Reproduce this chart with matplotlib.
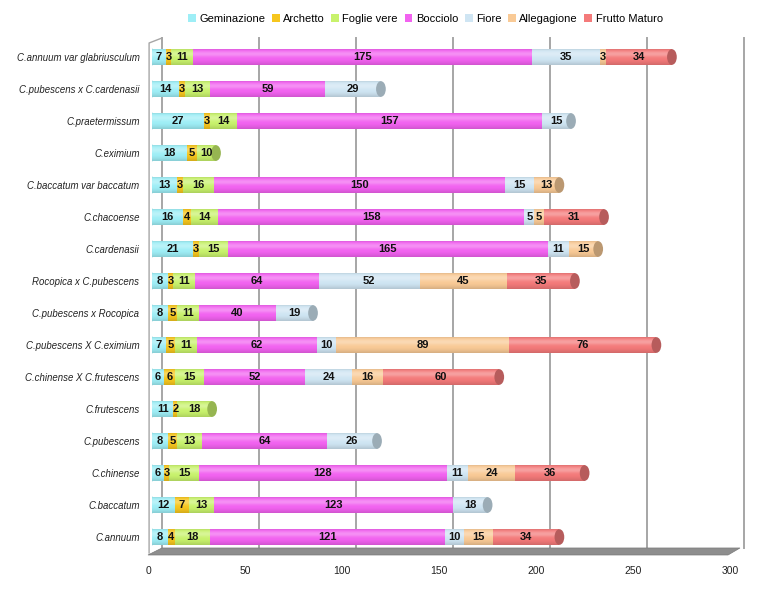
import numpy as np
import matplotlib.pyplot as plt
import matplotlib.transforms as mtransforms
from matplotlib.colors import to_rgb
from matplotlib.patches import Ellipse, Patch, Polygon

plt.rcParams["font.family"] = ["Liberation Sans", "DejaVu Sans"]

categories = [
    "C.annuum var glabriusculum",
    "C.pubescens x C.cardenasii",
    "C.praetermissum",
    "C.eximium",
    "C.baccatum var baccatum",
    "C.chacoense",
    "C.cardenasii",
    "Rocopica x C.pubescens",
    "C.pubescens x Rocopica",
    "C.pubescens X C.eximium",
    "C.chinense X C.frutescens",
    "C.frutescens",
    "C.pubescens",
    "C.chinense",
    "C.baccatum",
    "C.annuum",
]
stages = ["Geminazione", "Archetto", "Foglie vere", "Bocciolo", "Fiore",
          "Allegagione", "Frutto Maturo"]

geminazione = [7, 14, 27, 18, 13, 16, 21, 8, 8, 7, 6, 11, 8, 6, 12, 8]
archetto = [3, 3, 3, 5, 3, 4, 3, 3, 5, 5, 6, 2, 5, 3, 7, 4]
foglie_vere = [11, 13, 14, 10, 16, 14, 15, 11, 11, 11, 15, 18, 13, 15, 13, 18]
bocciolo = [175, 59, 157, 0, 150, 158, 165, 64, 40, 62, 52, 0, 64, 128, 123, 121]
fiore = [35, 29, 15, 0, 15, 5, 11, 52, 19, 10, 24, 0, 26, 11, 18, 10]
allegagione = [3, 0, 0, 0, 13, 5, 15, 45, 0, 89, 16, 0, 0, 24, 0, 15]
frutto_maturo = [34, 0, 0, 0, 0, 31, 0, 35, 0, 76, 60, 0, 0, 36, 0, 34]

series = [geminazione, archetto, foglie_vere, bocciolo, fiore, allegagione, frutto_maturo]
colors = ["#9eeef6", "#f6c61e", "#c8f26c", "#f262f0", "#cfe5f3", "#f9ca96", "#f47a7a"]

BAR_H = 0.5
GRID_C = "#a6a6a6"


def shade(c, f):
    r, g, b = to_rgb(c)
    return (r * f, g * f, b * f)


# soft vertical cylinder shading overlay
t = np.linspace(0, 1, 48)
hi = 0.30 * np.exp(-((t - 0.30) / 0.18) ** 2)
lo = 0.14 * np.clip((t - 0.60) / 0.40, 0, 1) ** 1.5 + 0.08 * np.exp(-(t / 0.06) ** 2)
alpha = np.clip(hi + lo, 0, 1)
wfrac = np.where(alpha > 0, hi / np.maximum(alpha, 1e-6), 0)
grad = np.zeros((len(t), 1, 4))
grad[:, 0, 0] = wfrac
grad[:, 0, 1] = wfrac
grad[:, 0, 2] = wfrac
grad[:, 0, 3] = alpha

fig = plt.figure(figsize=(7.65, 6.0), dpi=100)
ax = fig.add_axes([152 / 765, 47 / 600, 582 / 765, 512 / 600])

y = np.arange(len(categories))
lefts = np.zeros(len(categories))
for vals, col in zip(series, colors):
    vals = np.array(vals)
    ax.barh(y, vals, left=lefts, height=BAR_H, color=col, edgecolor="none", zorder=3)
    for yi, (l, v) in enumerate(zip(lefts, vals)):
        if v > 0:
            ax.text(l + v / 2, yi, str(v), ha="center", va="center", fontsize=8,
                    fontweight="bold", color="#111111", zorder=7)
    lefts = lefts + vals

totals = lefts
for yi, total in enumerate(totals):
    ax.imshow(grad, extent=(0, total, yi + BAR_H / 2, yi - BAR_H / 2), aspect="auto",
              origin="upper", zorder=4, interpolation="bilinear")
    # rounded start
    ax.add_patch(Ellipse((0, yi), 3.2, BAR_H, facecolor=colors[0], edgecolor=shade(colors[0], 0.88),
                         lw=0.5, zorder=2.5))
    # end cap coloured after the last segment
    last = max(j for j, s in enumerate(series) if s[yi] > 0)
    ax.add_patch(Ellipse((total, yi), 5, BAR_H * 0.98, facecolor=shade(colors[last], 0.75),
                         edgecolor="none", zorder=5))

ax.set_xlim(0, 300)
ax.set_ylim(len(categories) - 0.5, -0.5)
for s in ax.spines.values():
    s.set_visible(False)
ax.set_xticks(range(0, 301, 50))
ax.set_yticks(y)
ax.set_yticklabels(categories, fontstyle="italic", fontsize=6.9, color="#222222")
ax.tick_params(axis="y", length=0, pad=9)
ax.tick_params(axis="x", length=0, pad=9, labelsize=7.5, labelcolor="#222222")
shift = mtransforms.ScaledTranslation(-4 / 100, 0, fig.dpi_scale_trans)
for lab in ax.get_xticklabels():
    lab.set_transform(lab.get_transform() + shift)

# back wall grid lines, pushed back by the 3D depth
depth = mtransforms.ScaledTranslation(10 / 100, 0, fig.dpi_scale_trans)
blend = mtransforms.blended_transform_factory(ax.transData, ax.transAxes) + depth
for xv in range(0, 301, 50):
    ax.plot([xv, xv], [0.0098, 1.0059], color=GRID_C, lw=1.4, transform=blend,
            clip_on=False, zorder=1)

# left wall edge
ax.plot([-0.005, -0.005, 0.0172], [0.0, 0.9961, 1.0059], color=GRID_C, lw=1.0,
        transform=ax.transAxes, clip_on=False, zorder=1)

# floor
floor = Polygon([(-0.0069, -0.0039), (0.9897, -0.0039), (1.0103, 0.0098), (0.0172, 0.0098)],
                closed=True, facecolor="#8e8e8e", edgecolor="#7a7a7a", lw=0.5,
                transform=ax.transAxes, clip_on=False, zorder=1.5)
ax.add_patch(floor)

handles = [Patch(facecolor=c, edgecolor="none", label=s) for s, c in zip(stages, colors)]
fig.legend(handles=handles, loc="center", bbox_to_anchor=(0.556, 0.968), ncol=7,
           frameon=False, fontsize=8, handlelength=0.7, handleheight=0.7,
           handletextpad=0.3, columnspacing=0.6)

fig.savefig("out.png", dpi=100)
